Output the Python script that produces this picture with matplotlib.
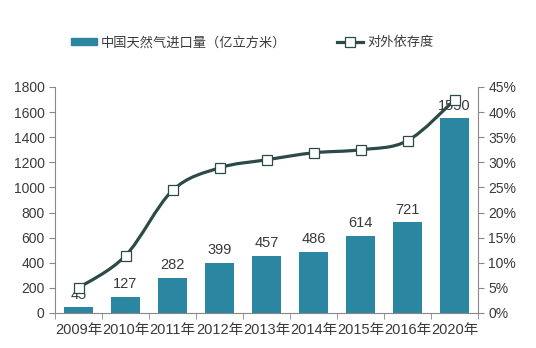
import matplotlib.pyplot as plt
from matplotlib.path import Path
from matplotlib.patches import PathPatch
from matplotlib.lines import Line2D
from matplotlib.patches import Patch
import numpy as np

plt.rcParams['font.family'] = ['Liberation Sans', 'Noto Sans CJK SC']

YEARS = ["2009年", "2010年", "2011年", "2012年", "2013年", "2014年", "2015年", "2016年", "2020年"]
IMPORTS = [45, 127, 282, 399, 457, 486, 614, 721, 1550]
DEPENDENCE = [5.0, 11.4, 24.4, 28.9, 30.5, 31.9, 32.5, 34.3, 42.4]

BAR_COLOR = '#2b86a1'
LINE_COLOR = '#2c4a47'
TEXT_COLOR = '#3a3a3a'
SPINE_COLOR = '#888888'

fig = plt.figure(figsize=(5.36, 3.48), dpi=100)
ax = fig.add_axes([55 / 536, 1 - 313 / 348, 423 / 536, 226 / 348])
ax2 = ax.twinx()

x = np.arange(len(YEARS))
ax.bar(x, IMPORTS, width=0.6, color=BAR_COLOR, zorder=2)
for xi, v in zip(x, IMPORTS):
    ax.annotate(str(v), (xi, v), xytext=(0, 4), textcoords='offset points',
                ha='center', va='bottom', fontsize=10.5, color=TEXT_COLOR)

ax.set_xlim(-0.5, len(YEARS) - 0.5)
ax.set_ylim(0, 1800)
ax.set_yticks(range(0, 1801, 200))
ax2.set_ylim(0, 45)
ax2.set_yticks(range(0, 46, 5))
ax2.set_yticklabels([f"{t}%" for t in range(0, 46, 5)])

# smooth line through the points (Catmull-Rom as Bezier segments)
pts = np.column_stack([x, DEPENDENCE])
verts = [tuple(pts[0])]
codes = [Path.MOVETO]
for i in range(len(pts) - 1):
    p0 = pts[i - 1] if i > 0 else pts[i]
    p1, p2 = pts[i], pts[i + 1]
    p3 = pts[i + 2] if i + 2 < len(pts) else pts[i + 1]
    c1 = p1 + (p2 - p0) / 6
    c2 = p2 - (p3 - p1) / 6
    verts += [tuple(c1), tuple(c2), tuple(p2)]
    codes += [Path.CURVE4] * 3
ax2.add_patch(PathPatch(Path(verts, codes), facecolor='none', edgecolor=LINE_COLOR,
                        lw=2.3, zorder=3))
ax2.plot(x, DEPENDENCE, ls='none', marker='s', ms=7, mfc='white', mec=LINE_COLOR,
         mew=0.9, zorder=4)

ax.set_xticks(x)
ax.set_xticklabels(YEARS)
ax.set_xticks(np.arange(-0.5, len(YEARS)), minor=True)
ax.tick_params(axis='x', which='major', length=0, pad=7, labelsize=10.5, labelcolor=TEXT_COLOR)
ax.tick_params(axis='x', which='minor', length=4, color=SPINE_COLOR)
ax.tick_params(axis='y', length=4, color=SPINE_COLOR, labelsize=10, labelcolor=TEXT_COLOR)
ax2.tick_params(axis='y', length=4, color=SPINE_COLOR, labelsize=10, labelcolor=TEXT_COLOR)

for a in (ax, ax2):
    a.spines['top'].set_visible(False)
    for s in ('left', 'right', 'bottom'):
        a.spines[s].set_color(SPINE_COLOR)
ax.spines['right'].set_visible(False)
ax2.spines['left'].set_visible(False)
ax2.spines['bottom'].set_visible(False)

handles = [Patch(color=BAR_COLOR),
           Line2D([], [], color=LINE_COLOR, lw=2.3, marker='s', ms=7,
                  mfc='white', mec=LINE_COLOR, mew=0.9)]
fig.legend(handles, ["中国天然气进口量（亿立方米）", "对外依存度"], loc='center',
           bbox_to_anchor=(0.47, 1 - 43 / 348), ncol=2, frameon=False, fontsize=9.5,
           handlelength=2.0, handleheight=0.45, columnspacing=3.8, handletextpad=0.3,
           labelcolor=TEXT_COLOR)

fig.savefig('out.png', dpi=100)
